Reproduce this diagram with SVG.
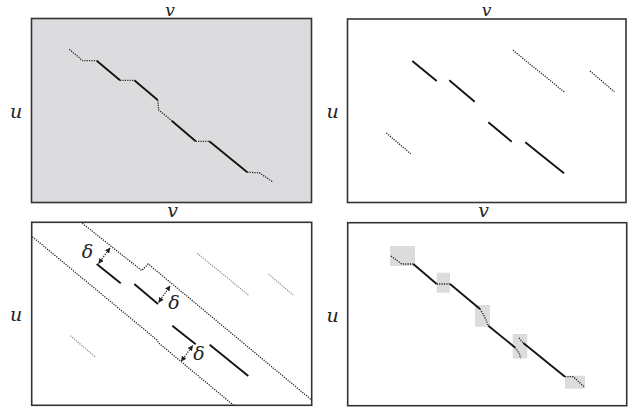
<svg xmlns="http://www.w3.org/2000/svg" width="630" height="407" viewBox="0 0 630 407">
<style>
.frame{fill:#fff;stroke:#333;stroke-width:1.6}
.gray{fill:#dcdcdf}
.lbl{font-family:"DejaVu Serif","Liberation Serif",serif;font-style:italic;font-size:19px;fill:#222;text-anchor:middle}
.top{font-size:17px}
.sol{fill:none;stroke:#111;stroke-width:1.8}
.dot{fill:none;stroke:#222;stroke-width:1.3;stroke-dasharray:1.2 1.2}
.ldot{fill:none;stroke:#888;stroke-width:1.2;stroke-dasharray:1.2 1.2}
.box{fill:#dcdcdc}
.arr{fill:none;stroke:#222;stroke-width:1.2;stroke-dasharray:1.3 1.3}
</style>
<defs>
<marker id="ah" viewBox="0 0 10 10" refX="9" refY="5" markerWidth="4.5" markerHeight="4.5" orient="auto-start-reverse">
<path d="M0,0 L10,5 L0,10 z" fill="#222"/>
</marker>
</defs>

<!-- Panel 1 -->
<g id="panel1">
<rect class="frame gray" x="31.5" y="18.5" width="280" height="184"/>
<text class="lbl top" x="170" y="16.3">v</text>
<text class="lbl" x="16" y="118">u</text>
<g id="p1-connectors">
<polyline class="dot" points="69.3,49.3 82.7,60.7 96.7,60.7"/>
<line class="sol" x1="96.7" y1="60.7" x2="120" y2="80.3"/>
<line class="dot" x1="120" y1="80.3" x2="134.3" y2="80.3"/>
<line class="sol" x1="134.3" y1="80.3" x2="157.7" y2="100"/>
<polyline class="dot" points="157.7,100 158.7,110 171.7,120.7"/>
<line class="sol" x1="171.7" y1="120.7" x2="195.7" y2="141.3"/>
<line class="dot" x1="195.7" y1="141.3" x2="209.3" y2="141.3"/>
<line class="sol" x1="209.3" y1="141.3" x2="247.3" y2="172.3"/>
<polyline class="dot" points="247.3,172.3 259.3,172.7 273.3,182.3"/>
</g>
</g>

<!-- Panel 2 -->
<g id="panel2">
<rect class="frame" x="347.5" y="19" width="278.5" height="183.5"/>
<text class="lbl top" x="486.5" y="16.3">v</text>
<text class="lbl" x="332.5" y="118">u</text>
<g id="p2-connectors">
<line class="sol" x1="412.3" y1="61" x2="436.7" y2="81"/>
<line class="sol" x1="449.3" y1="80.3" x2="474.7" y2="101.7"/>
<line class="sol" x1="488.3" y1="122.3" x2="511.7" y2="141.7"/>
<line class="sol" x1="525.3" y1="142.3" x2="564" y2="173.3"/>
<line class="dot" x1="513" y1="50.3" x2="564.3" y2="92"/>
<line class="dot" x1="590" y1="71" x2="614.3" y2="91.7"/>
<line class="dot" x1="386.3" y1="133" x2="410.7" y2="153.7"/>
</g>
</g>

<!-- Panel 3 -->
<g id="panel3">
<rect class="frame" x="31.7" y="222.3" width="280" height="183"/>
<text class="lbl" x="172.5" y="217">v</text>
<text class="lbl" x="16" y="321">u</text>
<g id="p3-connectors">
<polyline class="dot" points="82.3,223.3 141.7,270.5 148.3,264 311.7,400"/>
<polyline class="dot" points="32.3,236.7 157,340 158.7,343 233.3,405"/>
<line class="sol" x1="96.7" y1="264" x2="120.7" y2="283.3"/>
<line class="sol" x1="134.3" y1="284" x2="158" y2="304"/>
<line class="sol" x1="172.3" y1="325.7" x2="195.7" y2="344.3"/>
<line class="sol" x1="209.7" y1="344.7" x2="248.3" y2="376"/>
<line class="ldot" x1="197.3" y1="253.3" x2="248.3" y2="295"/>
<line class="ldot" x1="268.7" y1="274.3" x2="293.3" y2="295"/>
<line class="ldot" x1="70.3" y1="335.7" x2="95" y2="356.7"/>
<line class="arr" x1="98.7" y1="263.3" x2="110" y2="248" marker-start="url(#ah)" marker-end="url(#ah)"/>
<line class="arr" x1="158.7" y1="302.3" x2="170" y2="286" marker-start="url(#ah)" marker-end="url(#ah)"/>
<line class="arr" x1="181.3" y1="361" x2="192.7" y2="345.7" marker-start="url(#ah)" marker-end="url(#ah)"/>
</g>
<text class="lbl" x="87.5" y="258">δ</text>
<text class="lbl" x="174" y="309">δ</text>
<text class="lbl" x="199" y="360">δ</text>
</g>

<!-- Panel 4 -->
<g id="panel4">
<rect class="frame" x="347.7" y="222.7" width="279" height="183"/>
<text class="lbl" x="483.5" y="217">v</text>
<text class="lbl" x="332.5" y="321.5">u</text>
<rect class="box" x="390" y="246" width="25" height="20"/>
<rect class="box" x="436.7" y="272.7" width="13.3" height="20"/>
<rect class="box" x="475" y="305" width="15" height="21.7"/>
<rect class="box" x="512.7" y="334" width="14.6" height="24.5"/>
<rect class="box" x="565" y="375.7" width="20" height="13"/>
<g id="p4-connectors">
<polyline class="dot" points="391,256 401.7,264 413.3,264"/>
<line class="sol" x1="413.3" y1="264" x2="436.7" y2="284"/>
<line class="dot" x1="436.7" y1="284" x2="450" y2="284"/>
<line class="sol" x1="450" y1="284" x2="480" y2="309"/>
<polyline class="dot" points="480,309 484,315.7 486,320 488.3,325.7"/>
<line class="sol" x1="488.3" y1="325.7" x2="515" y2="347.5"/>
<polyline class="dot" points="515,347.5 519.3,353.3 520.7,358.3"/>
<line class="dot" x1="519" y1="338" x2="523.3" y2="343"/>
<line class="sol" x1="523.3" y1="343" x2="565" y2="376.7"/>
<polyline class="dot" points="565,376.7 573.3,376.7 584,386.7"/>
</g>
</g>
</svg>
